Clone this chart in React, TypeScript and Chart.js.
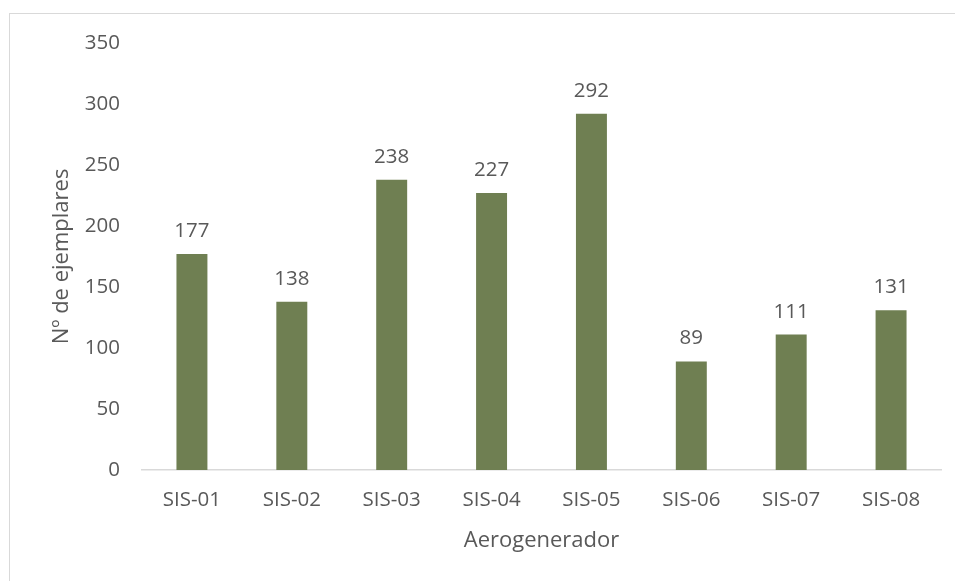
import React, { useEffect, useRef } from "react";
import { Chart, registerables } from "chart.js";

Chart.register(...registerables);

const categories = ["SIS-01", "SIS-02", "SIS-03", "SIS-04", "SIS-05", "SIS-06", "SIS-07", "SIS-08"];
const values = [177, 138, 238, 227, 292, 89, 111, 131];
const yTicks = [0, 50, 100, 150, 200, 250, 300, 350];
const xTitle = "Aerogenerador";
const yTitle = "Nº de ejemplares";

const FONT = "'Open Sans', sans-serif";
const TEXT = "#595959";
const BAR = "#6f7f52";
const LINE = "#d9d9d9";

const framePlugin = {
  id: "frame",
  beforeDraw(chart: any) {
    const ctx = chart.ctx;
    ctx.save();
    ctx.fillStyle = "#ffffff";
    ctx.fillRect(0, 0, chart.width, chart.height);
    ctx.strokeStyle = LINE;
    ctx.lineWidth = 1;
    ctx.strokeRect(9.5, 13.5, 1200, 1200);
    ctx.restore();
  },
};

const labelPlugin = {
  id: "barLabels",
  afterDatasetsDraw(chart: any) {
    const ctx = chart.ctx;
    const meta = chart.getDatasetMeta(0);
    ctx.save();
    ctx.font = `20.5px ${FONT}`;
    ctx.fillStyle = TEXT;
    ctx.textAlign = "center";
    ctx.textBaseline = "alphabetic";
    meta.data.forEach((bar: any, i: number) => {
      ctx.fillText(String(values[i]), bar.x, bar.y - 17);
    });
    ctx.restore();
  },
};

export default function App() {
  const ref = useRef<HTMLCanvasElement | null>(null);
  useEffect(() => {
    if (!ref.current) return;
    const chart = new Chart(ref.current, {
      type: "bar",
      data: {
        labels: categories,
        datasets: [
          {
            data: values,
            backgroundColor: BAR,
            borderWidth: 0,
            categoryPercentage: 1,
            barPercentage: 0.31,
          },
        ],
      },
      options: {
        animation: false,
        responsive: false,
        maintainAspectRatio: false,
        layout: { padding: { left: 0, right: 14, top: 43, bottom: 0 } },
        plugins: { legend: { display: false }, tooltip: { enabled: false } },
        scales: {
          x: {
            grid: { display: false, drawTicks: false },
            border: { display: true, color: LINE, width: 1.5 },
            ticks: { color: TEXT, font: { family: FONT, size: 20.5 }, padding: 18, maxRotation: 0 },
            title: {
              display: true,
              text: xTitle,
              color: TEXT,
              font: { family: FONT, size: 22 },
              padding: { top: 0, bottom: 27 },
            },
            afterFit(scale: any) {
              scale.height = 111;
            },
          },
          y: {
            min: 0,
            max: 350,
            grid: { display: false, drawTicks: false },
            border: { display: false },
            afterBuildTicks(scale: any) {
              scale.ticks = yTicks.map((v) => ({ value: v }));
            },
            ticks: { color: TEXT, font: { family: FONT, size: 20.5 }, padding: 22 },
            title: {
              display: true,
              text: yTitle,
              color: TEXT,
              font: { family: FONT, size: 22 },
              padding: { top: 49, bottom: 0 },
            },
            afterFit(scale: any) {
              scale.width = 142;
            },
          },
        },
      },
      plugins: [framePlugin, labelPlugin],
    });
    return () => chart.destroy();
  }, []);
  return (
    <div style={{ position: "absolute", left: 0, top: 0, width: 955, height: 581 }}>
      <canvas ref={ref} width={955} height={581} style={{ display: "block" }} />
    </div>
  );
}
